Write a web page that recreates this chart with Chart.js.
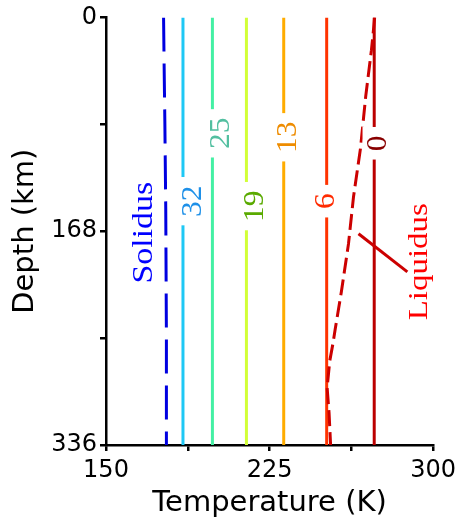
<!DOCTYPE html>
<html>
<head>
<meta charset="utf-8">
<script src="https://cdn.jsdelivr.net/npm/chart.js@4/dist/chart.umd.min.js"></script>
<style>
  body { margin: 0; background: #fff; }
  #wrap { width: 461px; height: 527px; }
</style>
</head>
<body>
<div id="wrap"><canvas id="mychart" width="461" height="527"></canvas></div>
<script>
// axis ticks
const depthTicks = [0, 84, 168, 252, 336];
const depthTickLabels = ['0', '', '168', '', '336'];
const tempTicks = [150, 187.5, 225, 262.5, 300];
const tempTickLabels = ['150', '', '225', '', '300'];

// isotherm contours (label -> temperature K)
const contourLevels = ['32', '25', '19', '13', '6', '0'];
const contourTemps = [185.3, 198.8, 214.4, 231.5, 251.2, 273.0];

// solidus curve
const solidusDepth = [0, 30, 84, 150, 250, 336];
const solidusTemp = [176.4, 176.6, 177.0, 177.4, 177.7, 177.7];

// liquidus curve
const liquidusDepth = [0, 9, 26, 62, 103, 141, 178, 216, 245, 256, 270, 291, 311, 336];
const liquidusTemp = [273.2, 272.7, 271.7, 269.1, 266.7, 263.5, 261.2, 257.9, 255.1, 254.1, 252.6, 251.4, 252.3, 253.0];

var lineColors = ['#1ec8f5', '#44f0a4', '#d2ff38', '#ffac00', '#ff3300', '#bb0000'];
var labelColors = ['#1e90e8', '#52bfa0', '#5aaa00', '#ee8c00', '#ff2a00', '#880000'];
// where the contour labels sit (temperature, depth)
var labelSpots = [[189.1, 144.4], [201.8, 91.1], [217.3, 148.3], [232.5, 94.2], [250.0, 144.4], [273.6, 98.9]];

function zip(xs, ys){
	var out = [];
	for (var i = 0; i < xs.length; i++) out.push({x: xs[i], y: ys[i]});
	return out;
}

var datasets = [];
datasets.push({
	label: 'Liquidus',
	data: zip(liquidusTemp, liquidusDepth),
	borderColor: '#cc0000',
	borderWidth: 3,
	borderDash: [16, 6],
	showLine: true,
	pointRadius: 0
});
datasets.push({
	label: 'Solidus',
	data: zip(solidusTemp, solidusDepth),
	borderColor: '#0000e0',
	borderWidth: 3,
	borderDash: [34, 12],
	showLine: true,
	pointRadius: 0
});
for (var i = 0; i < contourLevels.length; i++) {
	datasets.push({
		label: contourLevels[i],
		data: [{x: contourTemps[i], y: 0}, {x: contourTemps[i], y: 336}],
		borderColor: lineColors[i],
		borderWidth: 3,
		showLine: true,
		pointRadius: 0
	});
}

function rotText(ctx, txt, px, py, font, color, stretch, box){
	ctx.save();
	ctx.translate(px, py);
	ctx.rotate(-Math.PI / 2);
	ctx.scale(stretch, 1);
	ctx.font = font;
	var w = ctx.measureText(txt).width;
	if (box) {
		ctx.fillStyle = '#ffffff';
		ctx.fillRect(-w / 2 - 8, -13, w + 16, 26);
	}
	ctx.fillStyle = color;
	ctx.textAlign = 'center';
	ctx.textBaseline = 'alphabetic';
	ctx.fillText(txt, 0, box ? 10 : 8.5);
	ctx.restore();
}

var labelsPlugin = {
	id: 'labels',
	afterDatasetsDraw: function(chart){
		var ctx = chart.ctx;
		var xs = chart.scales.x, ys = chart.scales.y;
		for (var i = 0; i < contourLevels.length; i++) {
			rotText(ctx, contourLevels[i], xs.getPixelForValue(labelSpots[i][0]), ys.getPixelForValue(labelSpots[i][1]),
				'30px "Liberation Serif"', labelColors[i], 1.05, true);
		}
		// pointer from label to liquidus
		ctx.save();
		ctx.strokeStyle = '#cc0000';
		ctx.lineWidth = 3;
		ctx.beginPath();
		ctx.moveTo(xs.getPixelForValue(265.8), ys.getPixelForValue(170));
		ctx.lineTo(xs.getPixelForValue(288.2), ys.getPixelForValue(200));
		ctx.stroke();
		ctx.restore();
		rotText(ctx, 'Solidus', xs.getPixelForValue(167.3), ys.getPixelForValue(169.2), '30px "Liberation Serif"', '#0000ff', 1.13, false);
		rotText(ctx, 'Liquidus', xs.getPixelForValue(293.2), ys.getPixelForValue(192), '27px "Liberation Serif"', '#ff0000', 1.22, false);
	}
};

var ctx = document.getElementById('mychart').getContext('2d');
var myChart = new Chart(ctx, {
	type: 'scatter',
	data: { datasets: datasets },
	options: {
		responsive: false,
		animation: false,
		layout: { padding: { top: 10, right: 25, left: 0, bottom: 0 } },
		plugins: { legend: { display: false }, tooltip: { enabled: false } },
		scales: {
			x: {
				type: 'linear', position: 'bottom', min: 150, max: 300,
				afterBuildTicks: function(s){ s.ticks = tempTicks.map(function(v){ return {value: v}; }); },
				afterFit: function(s){ s.height = 82; },
				ticks: {
					autoSkip: false, maxRotation: 0, padding: 5, color: '#000',
					font: { family: 'DejaVu Sans', size: 24 },
					callback: function(v){ var k = tempTicks.indexOf(v); return k < 0 ? '' : tempTickLabels[k]; }
				},
				grid: { drawOnChartArea: false, tickLength: 6, color: '#000', lineWidth: 2.5 },
				border: { color: '#000', width: 2.5 },
				title: { display: true, text: 'Temperature (K)', color: '#000', font: { family: 'DejaVu Sans', size: 29 }, padding: { top: 0, bottom: 6 } }
			},
			y: {
				type: 'linear', reverse: true, min: 0, max: 336,
				afterBuildTicks: function(s){ s.ticks = depthTicks.map(function(v){ return {value: v}; }); },
				afterFit: function(s){ s.width = 106; },
				ticks: {
					autoSkip: false, padding: 3, color: '#000',
					font: { family: 'DejaVu Sans', size: 24 },
					callback: function(v){ var k = depthTicks.indexOf(v); return k < 0 ? '' : depthTickLabels[k]; }
				},
				grid: { drawOnChartArea: false, tickLength: 6, color: '#000', lineWidth: 2.5 },
				border: { color: '#000', width: 2.5 },
				title: { display: true, text: 'Depth (km)', color: '#000', font: { family: 'DejaVu Sans', size: 29 }, padding: { top: 8, bottom: 0 } }
			}
		}
	},
	plugins: [labelsPlugin]
});
</script>
</body>
</html>
